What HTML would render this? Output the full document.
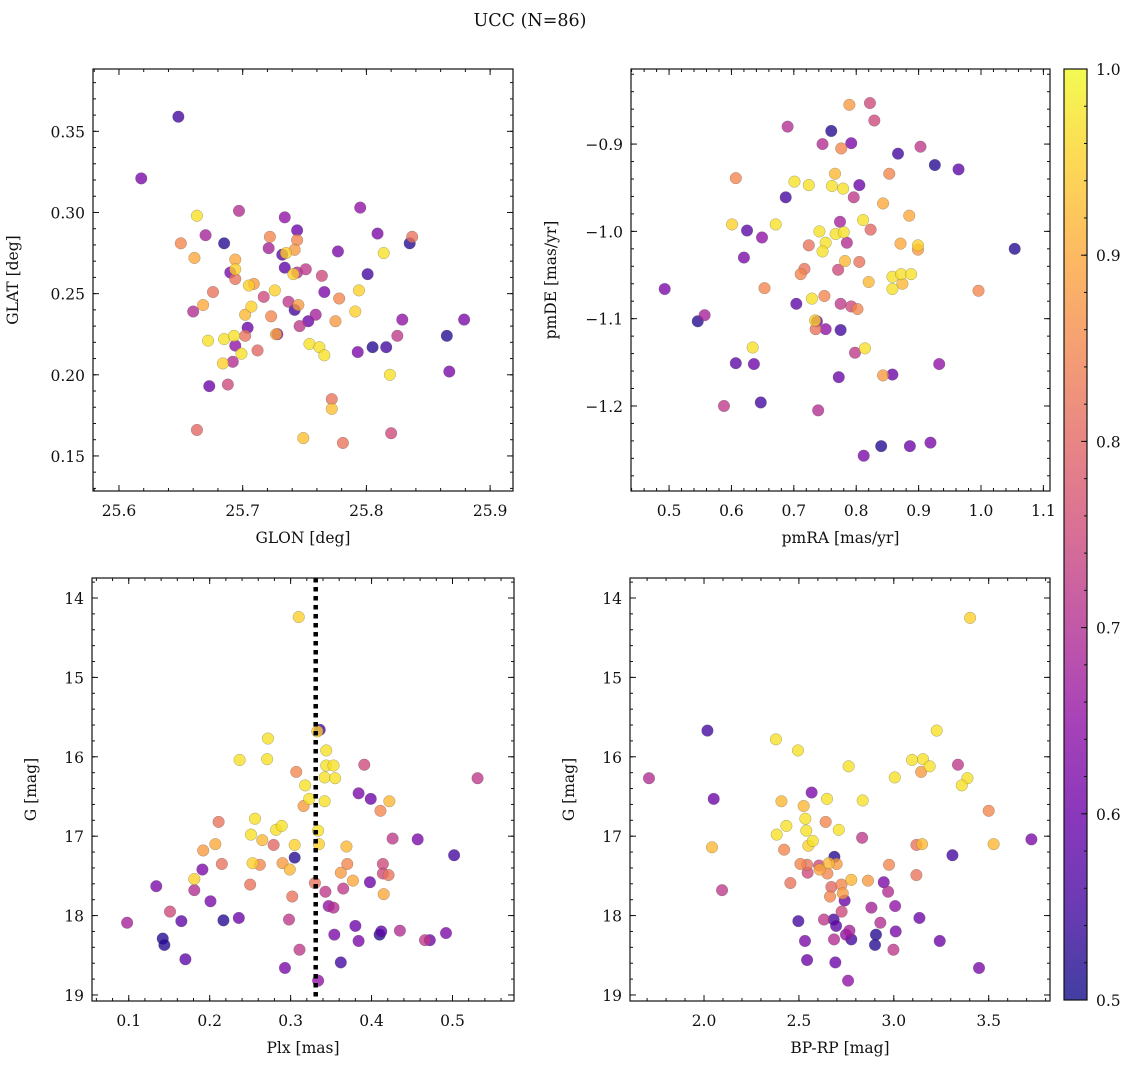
<!DOCTYPE html>
<html><head><meta charset="utf-8"><style>
html,body{margin:0;padding:0;background:#fff;}
svg text{font-family:"DejaVu Serif","Liberation Serif",serif;fill:#111;}
</style></head><body>
<svg id="fig" width="1136" height="1068" viewBox="0 0 1136 1068" xmlns="http://www.w3.org/2000/svg">
<defs>
<linearGradient id="plasma" x1="0" y1="1" x2="0" y2="0">
<stop offset="0" stop-color="#0d0887"/><stop offset="0.1" stop-color="#41049d"/><stop offset="0.2" stop-color="#6a00a8"/><stop offset="0.3" stop-color="#8f0da4"/><stop offset="0.4" stop-color="#b12a90"/><stop offset="0.5" stop-color="#cc4778"/><stop offset="0.6" stop-color="#e16462"/><stop offset="0.7" stop-color="#f2844b"/><stop offset="0.8" stop-color="#fca636"/><stop offset="0.9" stop-color="#fcce25"/><stop offset="1" stop-color="#f0f921"/>
</linearGradient>
</defs>
<text x="530" y="26" font-size="17.5" text-anchor="middle">UCC (N=86)</text>
</svg>
<script>
// Panel 1: GLON vs GLAT
const glon=[25.648,25.618,25.663,25.697,25.650,25.670,25.685,25.661,25.734,25.744,25.722,25.744,25.721,25.742,25.732,25.735,25.694,25.690,25.694,25.694,25.734,25.751,25.744,25.741,25.764,25.777,25.795,25.809,25.835,25.837,25.814,25.801,25.709,25.705,25.676,25.726,25.766,25.794,25.778,25.717,25.668,25.660,25.707,25.702,25.723,25.737,25.742,25.745,25.759,25.753,25.746,25.775,25.791,25.829,25.879,25.704,25.702,25.672,25.685,25.693,25.694,25.699,25.692,25.684,25.712,25.728,25.727,25.754,25.762,25.766,25.793,25.805,25.816,25.825,25.865,25.867,25.819,25.673,25.688,25.772,25.772,25.663,25.749,25.781,25.820];
const glat=[0.359,0.321,0.298,0.301,0.281,0.286,0.281,0.272,0.297,0.289,0.285,0.283,0.278,0.277,0.274,0.275,0.271,0.263,0.265,0.259,0.266,0.265,0.263,0.262,0.261,0.276,0.303,0.287,0.281,0.285,0.275,0.262,0.256,0.255,0.251,0.252,0.251,0.252,0.247,0.248,0.243,0.239,0.242,0.237,0.236,0.245,0.240,0.243,0.237,0.233,0.230,0.233,0.239,0.234,0.234,0.229,0.224,0.221,0.222,0.224,0.218,0.213,0.208,0.207,0.215,0.225,0.225,0.219,0.217,0.212,0.214,0.217,0.217,0.224,0.224,0.202,0.200,0.193,0.194,0.185,0.179,0.166,0.161,0.158,0.164];
const prob1=[.55,.62,.97,.7,.85,.68,.52,.9,.65,.6,.85,.85,.68,.88,.58,.95,.9,.62,.95,.82,.58,.72,.7,.95,.75,.62,.65,.62,.52,.82,.97,.55,.88,.95,.82,.95,.62,.95,.85,.75,.9,.7,.95,.92,.85,.72,.55,.88,.68,.6,.72,.88,.95,.65,.62,.6,.82,.97,.97,.97,.65,.97,.7,.95,.8,.62,.9,.97,.97,.97,.62,.52,.55,.72,.52,.62,.97,.6,.75,.82,.93,.8,.93,.82,.75];
// Panel 2: pmRA vs pmDE
const pmra=[0.789,0.822,0.829,0.690,0.760,0.746,0.792,0.776,0.867,0.903,0.926,0.964,0.607,0.853,0.766,0.701,0.724,0.761,0.779,0.805,0.687,0.796,0.843,0.885,0.601,0.671,0.625,0.774,0.811,0.649,0.741,0.767,0.780,0.823,0.751,0.785,0.724,0.746,0.871,0.899,0.899,1.054,0.620,0.717,0.711,0.771,0.782,0.805,0.820,0.858,0.872,0.888,0.874,0.858,0.493,0.653,0.996,0.729,0.749,0.704,0.775,0.792,0.802,0.557,0.546,0.737,0.734,0.735,0.751,0.775,0.634,0.814,0.798,0.607,0.636,0.933,0.843,0.858,0.772,0.588,0.647,0.739,0.840,0.886,0.919,0.812];
const pmde=[-0.855,-0.853,-0.873,-0.880,-0.885,-0.900,-0.899,-0.905,-0.911,-0.903,-0.924,-0.929,-0.939,-0.934,-0.934,-0.943,-0.947,-0.948,-0.951,-0.947,-0.961,-0.961,-0.968,-0.982,-0.992,-0.992,-0.999,-0.989,-0.987,-1.007,-1.000,-1.003,-1.001,-0.998,-1.013,-1.013,-1.016,-1.023,-1.014,-1.016,-1.021,-1.020,-1.030,-1.043,-1.049,-1.044,-1.034,-1.035,-1.058,-1.052,-1.049,-1.049,-1.060,-1.066,-1.066,-1.065,-1.068,-1.077,-1.074,-1.083,-1.083,-1.086,-1.089,-1.096,-1.103,-1.103,-1.102,-1.112,-1.112,-1.113,-1.133,-1.134,-1.139,-1.151,-1.152,-1.152,-1.165,-1.164,-1.167,-1.200,-1.196,-1.205,-1.246,-1.246,-1.242,-1.257];
const prob2=[.88,.75,.75,.7,.52,.7,.62,.85,.55,.72,.52,.58,.85,.85,.92,.97,.97,.97,.97,.6,.55,.72,.9,.9,.95,.97,.58,.68,.97,.65,.97,.97,.97,.8,.97,.7,.82,.97,.9,.95,.88,.52,.62,.82,.85,.75,.92,.82,.92,.97,.97,.97,.92,.97,.62,.85,.85,.97,.85,.58,.72,.75,.85,.68,.52,.6,.95,.82,.65,.55,.97,.97,.72,.58,.6,.65,.88,.6,.6,.72,.55,.7,.52,.6,.62,.62];
// Panel 3: Plx vs G
const plx=[0.310,0.336,0.333,0.272,0.271,0.237,0.344,0.344,0.353,0.342,0.355,0.307,0.391,0.531,0.318,0.323,0.316,0.342,0.384,0.399,0.422,0.411,0.211,0.256,0.251,0.265,0.282,0.289,0.279,0.305,0.207,0.192,0.334,0.335,0.369,0.426,0.457,0.502,0.305,0.215,0.191,0.253,0.262,0.290,0.299,0.370,0.362,0.377,0.414,0.414,0.421,0.181,0.134,0.181,0.250,0.330,0.343,0.365,0.398,0.415,0.302,0.201,0.347,0.353,0.151,0.098,0.165,0.217,0.236,0.298,0.380,0.354,0.384,0.410,0.412,0.435,0.466,0.472,0.492,0.142,0.144,0.170,0.311,0.293,0.362,0.334];
const gmag3=[14.24,15.66,15.68,15.77,16.03,16.04,15.92,16.11,16.11,16.26,16.27,16.19,16.10,16.27,16.36,16.53,16.62,16.56,16.46,16.53,16.56,16.68,16.82,16.78,16.98,17.05,16.92,16.87,17.11,17.11,17.10,17.18,16.93,17.10,17.13,17.03,17.04,17.24,17.27,17.35,17.42,17.34,17.36,17.34,17.42,17.35,17.46,17.56,17.35,17.47,17.49,17.54,17.63,17.68,17.61,17.59,17.70,17.66,17.58,17.73,17.76,17.82,17.88,17.90,17.95,18.09,18.07,18.06,18.03,18.05,18.13,18.24,18.32,18.24,18.20,18.19,18.31,18.31,18.22,18.29,18.37,18.55,18.43,18.66,18.59,18.82];
const prob3=[.95,.55,.95,.97,.97,.97,.97,.97,.97,.97,.97,.85,.75,.72,.97,.97,.88,.97,.62,.6,.92,.85,.82,.97,.97,.92,.97,.97,.8,.95,.9,.88,.97,.95,.92,.72,.62,.55,.52,.82,.62,.95,.85,.88,.92,.85,.88,.9,.75,.75,.82,.95,.62,.7,.82,.82,.72,.72,.6,.9,.82,.62,.65,.7,.75,.68,.58,.52,.6,.72,.6,.62,.62,.52,.58,.7,.72,.6,.62,.52,.52,.58,.72,.62,.55,.65];
// Panel 4: BP-RP vs G
const bprp=[3.402,2.018,3.226,2.379,2.495,1.710,3.096,3.154,3.189,3.144,3.338,3.388,3.358,3.005,2.762,2.051,2.567,2.648,2.836,2.408,2.525,2.534,2.641,2.434,2.539,2.383,2.710,2.573,2.550,2.833,3.500,3.725,3.526,2.042,2.422,3.119,3.149,3.309,2.687,2.508,2.543,2.546,2.606,2.609,2.657,2.699,2.650,2.975,3.119,2.455,2.776,2.864,2.947,2.095,2.671,2.724,2.731,2.664,2.741,2.970,2.882,3.007,2.725,2.497,2.632,2.683,2.696,2.929,3.135,2.532,2.685,2.766,2.776,2.748,2.906,2.901,3.010,2.998,3.242,2.543,2.692,3.449,2.759];
const gmag4=[14.25,15.67,15.67,15.78,15.92,16.27,16.04,16.03,16.12,16.19,16.10,16.27,16.36,16.26,16.12,16.53,16.45,16.53,16.55,16.56,16.62,16.78,16.82,16.87,16.93,16.98,16.92,17.06,17.12,17.02,16.68,17.04,17.10,17.14,17.17,17.11,17.10,17.24,17.26,17.35,17.36,17.46,17.37,17.42,17.34,17.35,17.47,17.36,17.49,17.59,17.55,17.56,17.58,17.68,17.64,17.61,17.72,17.76,17.81,17.70,17.90,17.88,17.95,18.07,18.05,18.05,18.13,18.09,18.03,18.32,18.30,18.19,18.30,18.24,18.24,18.37,18.20,18.43,18.32,18.56,18.59,18.66,18.82];
const prob4=[.95,.55,.97,.97,.97,.7,.97,.97,.97,.88,.72,.97,.97,.97,.97,.6,.62,.97,.97,.92,.92,.97,.85,.97,.97,.97,.97,.97,.95,.72,.85,.62,.92,.92,.85,.82,.92,.55,.52,.85,.82,.75,.75,.9,.92,.88,.85,.85,.82,.82,.92,.88,.62,.72,.8,.85,.88,.85,.6,.7,.68,.65,.75,.55,.72,.55,.58,.7,.6,.62,.7,.68,.55,.65,.52,.52,.62,.72,.6,.6,.6,.62,.65];
const plxLine=0.331;
const cbTicks=[0.5,0.6,0.7,0.8,0.9,1.0];

const NS='http://www.w3.org/2000/svg';
const svg=document.getElementById('fig');
const FS=15.5;
function mk(tag,attrs,parent){const e=document.createElementNS(NS,tag);for(const k in attrs)e.setAttribute(k,attrs[k]);(parent||svg).appendChild(e);return e;}
const stops=[[13,8,135],[65,4,157],[106,0,168],[143,13,164],[177,42,144],[204,71,120],[225,100,98],[242,132,75],[252,166,54],[252,206,37],[240,249,33]];
function cmap(p){let t=Math.max(0,Math.min(1,(p-0.5)/0.5))*10;const i=Math.min(9,Math.floor(t)),f=t-i;const a=stops[i],b=stops[i+1];return 'rgb('+a.map((v,k)=>Math.round(v+(b[k]-v)*f)).join(',')+')';}
function fmt(v,d){return v.toFixed(d).replace('-','\u2212');}

const panels=[
 {name:'sky',L:93,R:513,T:69,B:491,x0:25.579,x1:25.9185,y0:0.1284,y1:0.3884,xt:[25.6,25.7,25.8,25.9],xd:1,xm:0.02,yt:[0.15,0.2,0.25,0.3,0.35],yd:2,ym:0.01,xl:'GLON [deg]',yl:'GLAT [deg]',ylx:18,X:glon,Y:glat,P:prob1},
 {name:'pm',L:631,R:1050,T:69,B:491,x0:0.439,x1:1.1106,y0:-1.2974,y1:-0.814,xt:[0.5,0.6,0.7,0.8,0.9,1.0,1.1],xd:1,xm:0.02,yt:[-1.2,-1.1,-1.0,-0.9],yd:1,ym:0.02,xl:'pmRA [mas/yr]',yl:'pmDE [mas/yr]',ylx:556,X:pmra,Y:pmde,P:prob2},
 {name:'plx',L:92,R:514,T:578,B:1001,x0:0.0546,x1:0.576,y0:19.076,y1:13.748,xt:[0.1,0.2,0.3,0.4,0.5],xd:1,xm:0.02,yt:[14,15,16,17,18,19],yd:0,ym:0.2,xl:'Plx [mas]',yl:'G [mag]',ylx:36,X:plx,Y:gmag3,P:prob3},
 {name:'cmd',L:630,R:1050,T:578,B:1001,x0:1.610,x1:3.823,y0:19.076,y1:13.748,xt:[2.0,2.5,3.0,3.5],xd:1,xm:0.1,yt:[14,15,16,17,18,19],yd:0,ym:0.2,xl:'BP-RP [mag]',yl:'G [mag]',ylx:574,X:bprp,Y:gmag4,P:prob4}
];
panels.forEach(pn=>{
 const sx=v=>pn.L+(v-pn.x0)/(pn.x1-pn.x0)*(pn.R-pn.L);
 const sy=v=>pn.B-(v-pn.y0)/(pn.y1-pn.y0)*(pn.B-pn.T);
 const g=mk('g',{});
 
 
 const clip=mk('clipPath',{id:'c-'+pn.name},g);mk('rect',{x:pn.L,y:pn.T,width:pn.R-pn.L,height:pn.B-pn.T},clip);
 const pts=mk('g',{'clip-path':'url(#c-'+pn.name+')'},g);
 
 
 const order=pn.X.map((_,i)=>i).sort((a,b)=>pn.P[a]-pn.P[b]);
 order.forEach(i=>{
  const c=mk('circle',{cx:sx(pn.X[i]),cy:sy(pn.Y[i]),r:5.8,fill:cmap(pn.P[i]),'fill-opacity':0.78,stroke:'#555','stroke-opacity':0.5,'stroke-width':0.5},pts);
  
  
 });
 if(pn.name==='plx'){
  const ln=mk('line',{x1:sx(plxLine),x2:sx(plxLine),y1:pn.T,y2:pn.B,stroke:'#000','stroke-width':4.5,'stroke-dasharray':'4.5,4.5'},g);
  
  
 }
 const tk=mk('g',{stroke:'#111','stroke-width':1},g);
 
 
 const xs=Math.ceil(Math.min(pn.x0,pn.x1)/pn.xm-1e-6);
 for(let k=xs;k*pn.xm<=Math.max(pn.x0,pn.x1)+1e-9;k++){const x=sx(k*pn.xm);mk('line',{x1:x,x2:x,y1:pn.B,y2:pn.B-3},tk);mk('line',{x1:x,x2:x,y1:pn.T,y2:pn.T+3},tk);}
 const ylo=Math.min(pn.y0,pn.y1),yhi=Math.max(pn.y0,pn.y1);
 for(let k=Math.ceil(ylo/pn.ym-1e-6);k*pn.ym<=yhi+1e-9;k++){const y=sy(k*pn.ym);mk('line',{x1:pn.L,x2:pn.L+3,y1:y,y2:y},tk);mk('line',{x1:pn.R,x2:pn.R-3,y1:y,y2:y},tk);}
 pn.xt.forEach(v=>{const x=sx(v);mk('line',{x1:x,x2:x,y1:pn.B,y2:pn.B-6},tk);mk('line',{x1:x,x2:x,y1:pn.T,y2:pn.T+6},tk);
  const t=mk('text',{x:x,y:pn.B+25,'font-size':FS,'text-anchor':'middle'},g);t.textContent=fmt(v,pn.xd);
  
  });
 pn.yt.forEach(v=>{const y=sy(v);mk('line',{x1:pn.L,x2:pn.L+6,y1:y,y2:y},tk);mk('line',{x1:pn.R,x2:pn.R-6,y1:y,y2:y},tk);
  const t=mk('text',{x:pn.L-8,y:y+6,'font-size':FS,'text-anchor':'end'},g);t.textContent=fmt(v,pn.yd);
  
  });
 const fr=mk('rect',{x:pn.L,y:pn.T,width:pn.R-pn.L,height:pn.B-pn.T,fill:'none',stroke:'#111','stroke-width':1.2},g);
 
 
 const xl=mk('text',{x:(pn.L+pn.R)/2,y:pn.B+52,'font-size':FS,'text-anchor':'middle'},g);xl.textContent=pn.xl;
 
 
 const cy=(pn.T+pn.B)/2;
 const yl=mk('text',{x:pn.ylx,y:cy,'font-size':FS,'text-anchor':'middle',transform:'rotate(-90 '+pn.ylx+' '+cy+')'},g);yl.textContent=pn.yl;
 
 
});
const cb=mk('g',{});


const CL=1064,CR=1087,CT=69,CB=1000;
mk('rect',{x:CL,y:CT,width:CR-CL,height:CB-CT,fill:'url(#plasma)','fill-opacity':0.78},cb);
mk('rect',{x:CL,y:CT,width:CR-CL,height:CB-CT,fill:'none',stroke:'#111','stroke-width':1.2},cb);
const cy=v=>CB-(v-0.5)/0.5*(CB-CT);
for(let k=25;k<=50;k++){const y=cy(k*0.02);mk('line',{x1:CR,x2:CR-3,y1:y,y2:y,stroke:'#111'},cb);}
cbTicks.forEach(v=>{const y=cy(v);mk('line',{x1:CR,x2:CR-6,y1:y,y2:y,stroke:'#111'},cb);
 const t=mk('text',{x:CR+9,y:y+6,'font-size':FS},cb);t.textContent=v.toFixed(1);
 
 });
</script>
</body></html>
